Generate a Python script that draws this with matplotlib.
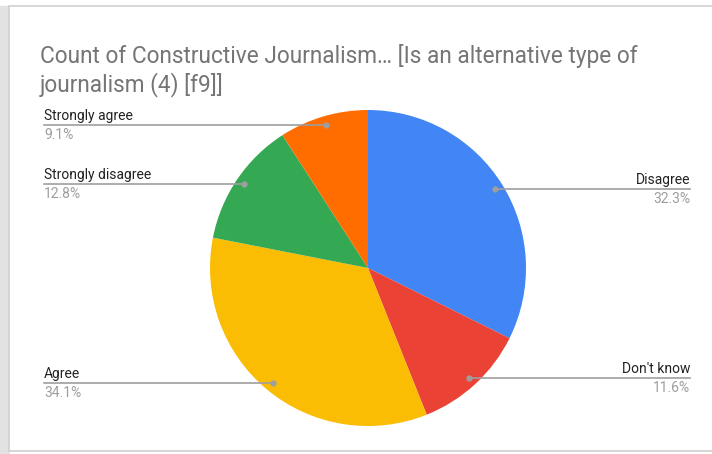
import numpy as np
import matplotlib
matplotlib.use('Agg')
import matplotlib.pyplot as plt
from matplotlib.patches import Rectangle

plt.rcParams['font.family'] = ['Roboto', 'DejaVu Sans']

title_lines = ['Count of Constructive Journalism… [Is an alternative type of',
               'journalism (4) [f9]]']
labels = ['Disagree', "Don't know", 'Agree', 'Strongly disagree', 'Strongly agree']
values = [32.3, 11.6, 34.1, 12.8, 9.1]
colors = ['#4285F4', '#EA4335', '#FBBC04', '#34A853', '#FF6D01']

W, H = 712, 454
fig = plt.figure(figsize=(W / 100, H / 100), dpi=100)
ax = fig.add_axes([0, 0, 1, 1])

# frame / shadow of the screenshot
ax.add_patch(Rectangle((0, 0), 9, H - 6, color='#e2e2e2', zorder=0))
ax.add_patch(Rectangle((9, 3), W, H - 9, facecolor='white', edgecolor='#cfcfcf', lw=1.2, zorder=0.5))

cx, cy, r = 368, H - 268, 158
ax.pie(values, colors=colors, startangle=90, counterclock=False,
       center=(cx, cy), radius=r, frame=True,
       wedgeprops=dict(linewidth=0))
ax.set_xlim(0, W)
ax.set_ylim(0, H)
ax.axis('off')

for i, line in enumerate(title_lines):
    ax.text(40, H - 63 - 28 * i, line, fontsize=16.3, color='#757575', va='baseline')

total = sum(values)
cum = 0
for lab, v in zip(labels, values):
    mid = 90 - 360 * (cum + v / 2) / total
    cum += v
    a = np.deg2rad(mid)
    px = cx + 0.945 * r * np.cos(a)
    py = cy + 0.945 * r * np.sin(a)
    if px > cx:
        xe, ha = 690, 'right'
    else:
        xe, ha = 44, 'left'
    ax.plot([px, xe], [py, py], color='#9e9e9e', lw=1.2, zorder=5)
    ax.plot(px, py, 'o', color='#9e9e9e', ms=3.5, zorder=6)
    ax.text(xe, py + 2, lab, ha=ha, va='bottom', fontsize=10, color='#222222')
    ax.text(xe, py - 3, f'{v:.1f}%', ha=ha, va='top', fontsize=10, color='#9e9e9e')

fig.savefig('out.png', dpi=100)
